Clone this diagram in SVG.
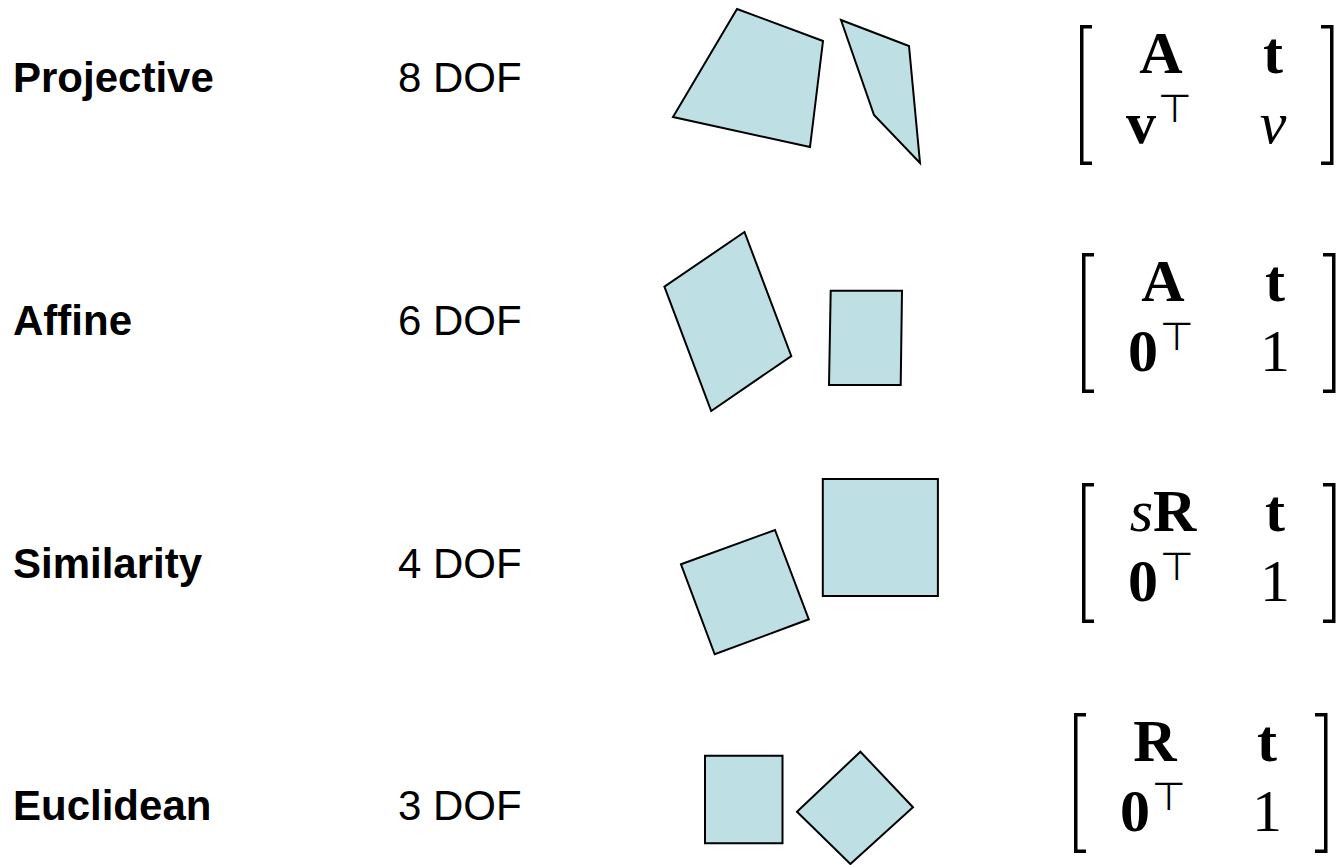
<svg xmlns="http://www.w3.org/2000/svg" width="1343" height="865" viewBox="0 0 1343 865">
<style>
  .lbl { font-family: "Liberation Sans", Arial, sans-serif; font-size: 42px; font-weight: bold; fill: #000; }
  .dof { font-family: "Liberation Sans", Arial, sans-serif; font-size: 42px; fill: #000; }
  .shape { fill: #BEE0E4; stroke: #000; stroke-width: 2; stroke-linejoin: miter; }
  .brk { fill: none; stroke: #000; stroke-width: 3.5; stroke-linejoin: miter; stroke-linecap: butt; }
  .mb { font-family: "Liberation Serif", "Times New Roman", serif; font-size: 60px; font-weight: bold; fill: #000; text-anchor: middle; }
  .mi { font-family: "Liberation Serif", "Times New Roman", serif; font-size: 60px; font-style: italic; fill: #000; text-anchor: middle; }
  .mr { font-family: "Liberation Serif", "Times New Roman", serif; font-size: 60px; fill: #000; text-anchor: middle; }
  .top { font-family: "DejaVu Sans", sans-serif; font-size: 39px; fill: #000; }
</style>
<defs>
  <g id="brackets">
    <path class="brk" d="M12 1.75 H1.75 V138.25 H12"/>
    <path class="brk" d="M241 1.75 H251.75 V138.25 H241"/>
  </g>
</defs>

<g id="projective">
  <text class="lbl" x="13" y="92">Projective</text>
  <text class="dof" x="398" y="92">8 DOF</text>
  <polygon class="shape" points="737,9 823,41 810,147 673,117"/>
  <polygon class="shape" points="841,20 909,46 920,163 874,115"/>
  <g id="projective-matrix" transform="translate(1080,25)">
    <use href="#brackets"/>
    <text class="mb" x="81" y="48">A</text>
    <text class="mb" x="193" y="48">t</text>
    <text class="mb" x="61" y="118">v</text>
    <text class="top" x="78" y="97">⊤</text>
    <text class="mi" x="193" y="118">v</text>
  </g>
</g>

<g id="affine">
  <text class="lbl" x="13" y="335">Affine</text>
  <text class="dof" x="398" y="335">6 DOF</text>
  <polygon class="shape" points="744.5,232 791.3,356 711.2,411 664.4,286.7"/>
  <polygon class="shape" points="830.7,290.7 902,290.7 900.7,385 829,385"/>
  <g id="affine-matrix" transform="translate(1082,253)">
    <use href="#brackets"/>
    <text class="mb" x="81" y="48">A</text>
    <text class="mb" x="193" y="48">t</text>
    <text class="mb" x="61" y="118">0</text>
    <text class="top" x="78" y="97">⊤</text>
    <text class="mr" x="193" y="118">1</text>
  </g>
</g>

<g id="similarity">
  <text class="lbl" x="13" y="578">Similarity</text>
  <text class="dof" x="398" y="578">4 DOF</text>
  <polygon class="shape" points="681,564.3 775,530 808.8,619.3 714.7,654.3"/>
  <polygon class="shape" points="822.8,479 937.9,479 937.9,596 822.8,596"/>
  <g id="similarity-matrix" transform="translate(1082,483)">
    <use href="#brackets"/>
    <text class="mb" x="81" y="48"><tspan font-style="italic" font-weight="normal">s</tspan>R</text>
    <text class="mb" x="193" y="48">t</text>
    <text class="mb" x="61" y="118">0</text>
    <text class="top" x="78" y="97">⊤</text>
    <text class="mr" x="193" y="118">1</text>
  </g>
</g>

<g id="euclidean">
  <text class="lbl" x="13" y="820">Euclidean</text>
  <text class="dof" x="398" y="820">3 DOF</text>
  <polygon class="shape" points="705,755.7 782.5,755.7 782.5,843.3 705,843.3"/>
  <polygon class="shape" points="860.4,751.7 913,807.3 850.4,864 797,811.7"/>
  <g id="euclidean-matrix" transform="translate(1074,713)">
    <use href="#brackets"/>
    <text class="mb" x="81" y="48">R</text>
    <text class="mb" x="193" y="48">t</text>
    <text class="mb" x="61" y="118">0</text>
    <text class="top" x="78" y="97">⊤</text>
    <text class="mr" x="193" y="118">1</text>
  </g>
</g>
</svg>
